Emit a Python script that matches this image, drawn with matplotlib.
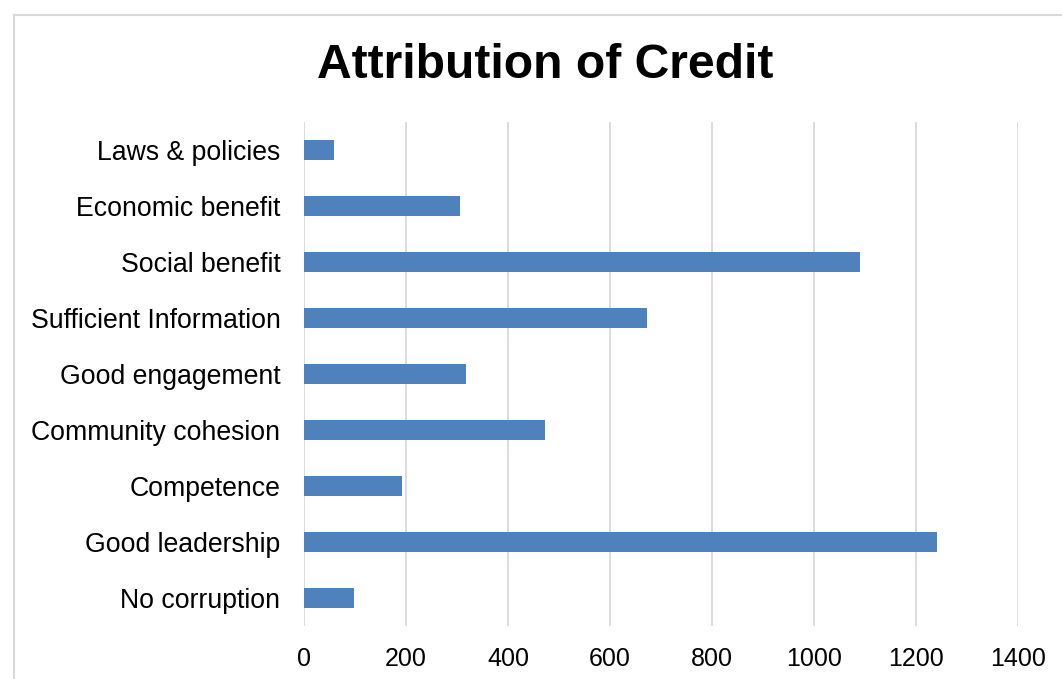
import matplotlib
matplotlib.use("Agg")
import matplotlib.pyplot as plt
from matplotlib.lines import Line2D

plt.rcParams["font.family"] = ["Liberation Sans", "DejaVu Sans"]

# Categories listed bottom to top, as they appear on the y axis
categories = [
    "No corruption",
    "Good leadership",
    "Competence",
    "Community cohesion",
    "Good engagement",
    "Sufficient Information",
    "Social benefit",
    "Economic benefit",
    "Laws & policies",
]
counts = [98, 1241, 192, 473, 318, 672, 1090, 306, 59]
x_ticks = [0, 200, 400, 600, 800, 1000, 1200, 1400]

W, H = 1062, 679
fig = plt.figure(figsize=(W / 100, H / 100), dpi=100)
ax = fig.add_axes([304 / W, (H - 626) / H, (1018 - 304) / W, 504 / H])

ax.barh(range(len(categories)), counts, height=0.36, color="#4F81BD", zorder=3)

ax.set_xlim(0, 1400)
ax.set_ylim(-0.5, len(categories) - 0.5)
ax.set_xticks(x_ticks)
ax.set_xticklabels([str(t) for t in x_ticks], fontsize=18)
ax.set_yticks(range(len(categories)))
ax.set_yticklabels(categories, fontsize=19.2)
ax.tick_params(axis="x", length=0, pad=15)
ax.tick_params(axis="y", length=0, pad=17)
ax.grid(axis="x", color="#D9D9D9", linewidth=1.3, zorder=0)
ax.set_axisbelow(True)
for s in ax.spines.values():
    s.set_visible(False)

fig.text(545.5 / W, 1 - 66 / H, "Attribution of Credit", ha="center", va="center",
         fontsize=34.6, fontweight="bold")

# chart-area frame (left and top edges only; the rest runs off the image)
fig.add_artist(Line2D([13.5 / W, 13.5 / W], [0, 1 - 14.5 / H], transform=fig.transFigure,
                      color="#D9D9D9", linewidth=1.5))
fig.add_artist(Line2D([13.5 / W, 1], [1 - 14.5 / H, 1 - 14.5 / H], transform=fig.transFigure,
                      color="#D9D9D9", linewidth=1.5))

fig.savefig("out.png", dpi=100)
